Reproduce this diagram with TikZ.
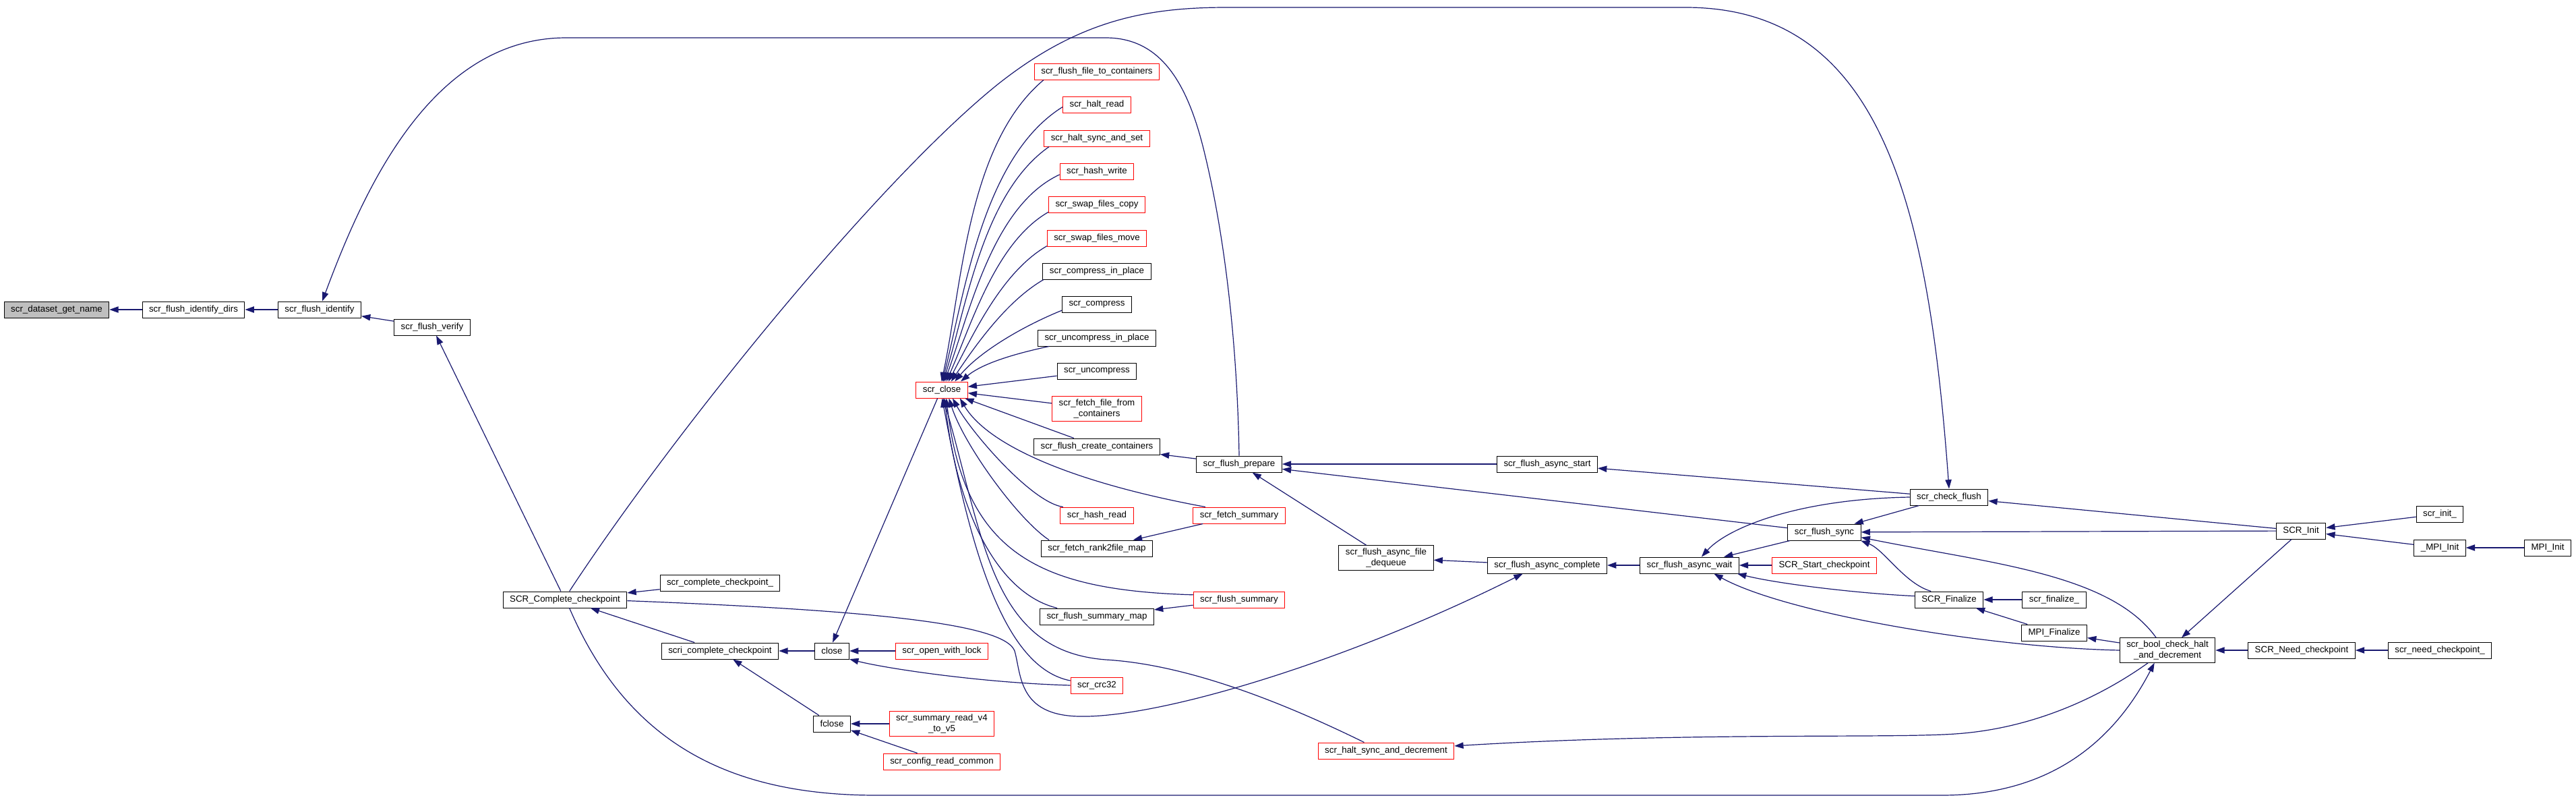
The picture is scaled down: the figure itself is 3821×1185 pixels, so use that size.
\documentclass[tikz,border=0pt]{standalone}
\usepackage{fontspec}
\setmainfont{Liberation Sans}
\usetikzlibrary{arrows.meta}
\definecolor{edgeblue}{RGB}{25,25,112}
\definecolor{rootgrey}{RGB}{191,191,191}
\definecolor{truncred}{RGB}{255,0,0}

\begin{document}
\begin{tikzpicture}[x=0.75pt, y=0.75pt,
    fn/.style={rectangle, draw=black, line width=0.75pt, fill=white,
        minimum height=18pt, inner xsep=7.5pt, inner ysep=3pt,
        font=\fontsize{10pt}{12pt}\selectfont, align=center},
    fnred/.style={fn, draw=truncred},
    arr/.style={{Triangle[length=10pt,width=7pt]}-, line width=0.9pt, edgeblue}
]
    \path[use as bounding box, fill=white] (0,0) rectangle (3821,-1185);

    \node[fn, fill=rootgrey] (getname) at (84,-459) {scr\_dataset\_get\_name};
    \node[fn] (identdirs) at (287,-459) {scr\_flush\_identify\_dirs};
    \node[fn] (ident) at (474,-459) {scr\_flush\_identify};
    \node[fn] (verify) at (641,-485) {scr\_flush\_verify};
    \node[fn] (complete) at (838,-889) {SCR\_Complete\_checkpoint};
    \node[fn] (completeu) at (1068,-864) {scr\_complete\_checkpoint\_};
    \node[fn] (scricomplete) at (1068,-965) {scri\_complete\_checkpoint};
    \node[fn] (close) at (1234,-965) {close};
    \node[fn] (fclose) at (1234,-1073) {fclose};
    \node[fnred] (scrclose) at (1397,-578) {scr\_close};
    \node[fnred] (openlock) at (1397,-965) {scr\_open\_with\_lock};
    \node[fnred] (summaryvf) at (1397,-1073) {scr\_summary\_read\_v4\\\_to\_v5};
    \node[fnred] (configread) at (1397,-1129) {scr\_config\_read\_common};

    \node[fnred] (filetocont) at (1627,-106) {scr\_flush\_file\_to\_containers};
    \node[fnred] (haltread) at (1627,-155) {scr\_halt\_read};
    \node[fnred] (haltsyncset) at (1627,-205) {scr\_halt\_sync\_and\_set};
    \node[fnred] (hashwrite) at (1627,-254) {scr\_hash\_write};
    \node[fnred] (swapcopy) at (1627,-303) {scr\_swap\_files\_copy};
    \node[fnred] (swapmove) at (1627,-353) {scr\_swap\_files\_move};
    \node[fn] (compressip) at (1627,-402) {scr\_compress\_in\_place};
    \node[fn] (compress) at (1627,-451) {scr\_compress};
    \node[fn] (uncompressip) at (1627,-501) {scr\_uncompress\_in\_place};
    \node[fn] (uncompress) at (1627,-550) {scr\_uncompress};
    \node[fnred] (fetchfile) at (1627,-606) {scr\_fetch\_file\_from\\\_containers};
    \node[fn] (createcont) at (1627,-662) {scr\_flush\_create\_containers};
    \node[fnred] (hashread) at (1627,-764) {scr\_hash\_read};
    \node[fn] (rank2file) at (1627,-813) {scr\_fetch\_rank2file\_map};
    \node[fn] (summarymap) at (1627,-914) {scr\_flush\_summary\_map};
    \node[fnred] (crc) at (1627,-1016) {scr\_crc32};

    \node[fn] (prepare) at (1838,-688) {scr\_flush\_prepare};
    \node[fnred] (fetchsummary) at (1838,-764) {scr\_fetch\_summary};
    \node[fnred] (flushsummary) at (1838,-889) {scr\_flush\_summary};
    \node[fn] (dequeue) at (2056,-827) {scr\_flush\_async\_file\\\_dequeue};
    \node[fnred] (haltsyncdec) at (2056,-1113) {scr\_halt\_sync\_and\_decrement};
    \node[fn] (asyncstart) at (2295,-688) {scr\_flush\_async\_start};
    \node[fn] (asynccomplete) at (2295,-838) {scr\_flush\_async\_complete};
    \node[fn] (asyncwait) at (2506,-838) {scr\_flush\_async\_wait};
    \node[fn] (flushsync) at (2706,-789) {scr\_flush\_sync};
    \node[fnred] (startckpt) at (2706,-838) {SCR\_Start\_checkpoint};
    \node[fn] (checkflush) at (2891,-737) {scr\_check\_flush};
    \node[fn] (finalize) at (2891,-889) {SCR\_Finalize};
    \node[fn] (finalizeu) at (3047,-889) {scr\_finalize\_};
    \node[fn] (mpifinalize) at (3047,-938) {MPI\_Finalize};
    \node[fn] (boolcheck) at (3215,-964) {scr\_bool\_check\_halt\\\_and\_decrement};
    \node[fn] (scrinit) at (3413,-787) {SCR\_Init};
    \node[fn] (needckpt) at (3414,-964) {SCR\_Need\_checkpoint};
    \node[fn] (scrinitu) at (3619,-762) {scr\_init\_};
    \node[fn] (mpiinitu) at (3619,-812) {\_MPI\_Init};
    \node[fn] (needckptu) at (3619,-964) {scr\_need\_checkpoint\_};
    \node[fn] (mpiinit) at (3779,-812) {MPI\_Init};

    \draw[arr] (getname) -- (identdirs);
    \draw[arr] (identdirs) -- (ident);
    \draw[arr] (ident) -- (verify);
    \draw[arr] (ident.72) .. controls (540,-280) and (640,-56) .. (840,-56) -- (1640,-56)
        .. controls (1720,-56) and (1760,-120) .. (1785,-220)
        .. controls (1815,-340) and (1835,-500) .. (prepare.north);
    \draw[arr] (verify) -- (complete);
    \draw[arr] (checkflush.north) .. controls (2860,-300) and (2790,-11) .. (2500,-11) -- (1820,-11)
        .. controls (1700,-11) and (1600,-30) .. (1480,-125)
        .. controls (1300,-270) and (1000,-640) .. (complete.62);
    \draw[arr] (complete) -- (completeu);
    \draw[arr] (complete) -- (scricomplete);
    \draw[arr] (scricomplete) -- (close);
    \draw[arr] (scricomplete) -- (fclose);
    \draw[arr] (close) -- (openlock);
    \draw[arr] (close.85) -- (scrclose.-117);
    \draw[arr] (close.-25) .. controls (1310,-990) and (1450,-1012) .. (crc.west);
    \draw[arr] (fclose) -- (summaryvf);
    \draw[arr] (fclose) -- (configread);

    \draw[arr] (scrclose.92) to[out=78,in=220,looseness=0.8] (filetocont.189);
    \draw[arr] (scrclose.86) to[out=76,in=212,looseness=0.8] (haltread.184);
    \draw[arr] (scrclose.80) to[out=73,in=215,looseness=0.8] (haltsyncset.190);
    \draw[arr] (scrclose.72) to[out=70,in=205,looseness=0.8] (hashwrite.185);
    \draw[arr] (scrclose.62) to[out=66,in=210,looseness=0.8] (swapcopy.189);
    \draw[arr] (scrclose.52) to[out=62,in=210,looseness=0.8] (swapmove.189);
    \draw[arr] (scrclose.42) to[out=56,in=210,looseness=0.8] (compressip.189);
    \draw[arr] (scrclose.33) to[out=50,in=202,looseness=0.8] (compress.190);
    \draw[arr] (scrclose.24) to[out=40,in=192,looseness=0.8] (uncompressip.190);
    \draw[arr] (scrclose) -- (uncompress);
    \draw[arr] (scrclose) -- (fetchfile);
    \draw[arr] (scrclose) -- (createcont);
    \draw[arr] (scrclose.-38) .. controls (1440,-640) and (1530,-745) .. (hashread.166);
    \draw[arr] (scrclose.-25) .. controls (1465,-660) and (1590,-715) .. (fetchsummary.166);
    \draw[arr] (scrclose.-50) .. controls (1430,-660) and (1510,-770) .. (rank2file.170);
    \draw[arr] (scrclose.-72) .. controls (1420,-760) and (1480,-880) .. (summarymap.168);
    \draw[arr] (scrclose.-62) .. controls (1430,-820) and (1540,-875) .. (flushsummary.174);
    \draw[arr] (scrclose.-88) .. controls (1440,-820) and (1490,-990) .. (crc.170);
    \draw[arr] (scrclose.-80) .. controls (1460,-800) and (1470,-965) .. (1640,-978)
        .. controls (1760,-985) and (1900,-1040) .. (haltsyncdec.159);

    \draw[arr] (createcont) -- (prepare);
    \draw[arr] (rank2file) -- (fetchsummary);
    \draw[arr] (summarymap) -- (flushsummary);
    \draw[arr] (prepare) -- (asyncstart);
    \draw[arr] (prepare) -- (flushsync);
    \draw[arr] (prepare) -- (dequeue);
    \draw[arr] (dequeue) -- (asynccomplete);
    \draw[arr] (asynccomplete) -- (asyncwait);
    \draw[arr] (asynccomplete.199) .. controls (2000,-980) and (1720,-1065) .. (1600,-1062)
        .. controls (1510,-1060) and (1515,-1000) .. (1505,-965)
        .. controls (1490,-925) and (1300,-905) .. (complete.-1);
    \draw[arr] (asyncstart) -- (checkflush);
    \draw[arr] (asyncwait) -- (flushsync);
    \draw[arr] (asyncwait.35) .. controls (2560,-785) and (2660,-740) .. (checkflush.west);
    \draw[arr] (asyncwait) -- (startckpt);
    \draw[arr] (asyncwait.-10) .. controls (2640,-866) and (2760,-880) .. (finalize.174);
    \draw[arr] (asyncwait.-19) .. controls (2650,-910) and (2950,-960) .. (boolcheck.west);
    \draw[arr] (flushsync) -- (checkflush);
    \draw[arr] (flushsync) -- (scrinit);
    \draw[arr] (flushsync.-13) .. controls (2795,-815) and (2825,-865) .. (finalize.155);
    \draw[arr] (flushsync.-8) .. controls (2950,-835) and (3130,-850) .. (boolcheck.132);
    \draw[arr] (checkflush) -- (scrinit);
    \draw[arr] (finalize) -- (finalizeu);
    \draw[arr] (finalize) -- (mpifinalize);
    \draw[arr] (mpifinalize) -- (boolcheck);
    \draw[arr] (boolcheck) -- (scrinit);
    \draw[arr] (boolcheck) -- (needckpt);
    \draw[arr] (boolcheck.224) .. controls (3140,-1090) and (3050,-1179) .. (2880,-1179) -- (1300,-1179)
        .. controls (1080,-1179) and (930,-1100) .. (complete.-62);
    \draw[arr] (haltsyncdec.4) .. controls (2500,-1085) and (2800,-1095) .. (2900,-1088)
        .. controls (3020,-1080) and (3120,-1030) .. (boolcheck.213);
    \draw[arr] (scrinit) -- (scrinitu);
    \draw[arr] (scrinit) -- (mpiinitu);
    \draw[arr] (mpiinitu) -- (mpiinit);
    \draw[arr] (needckpt) -- (needckptu);
\end{tikzpicture}
\end{document}
